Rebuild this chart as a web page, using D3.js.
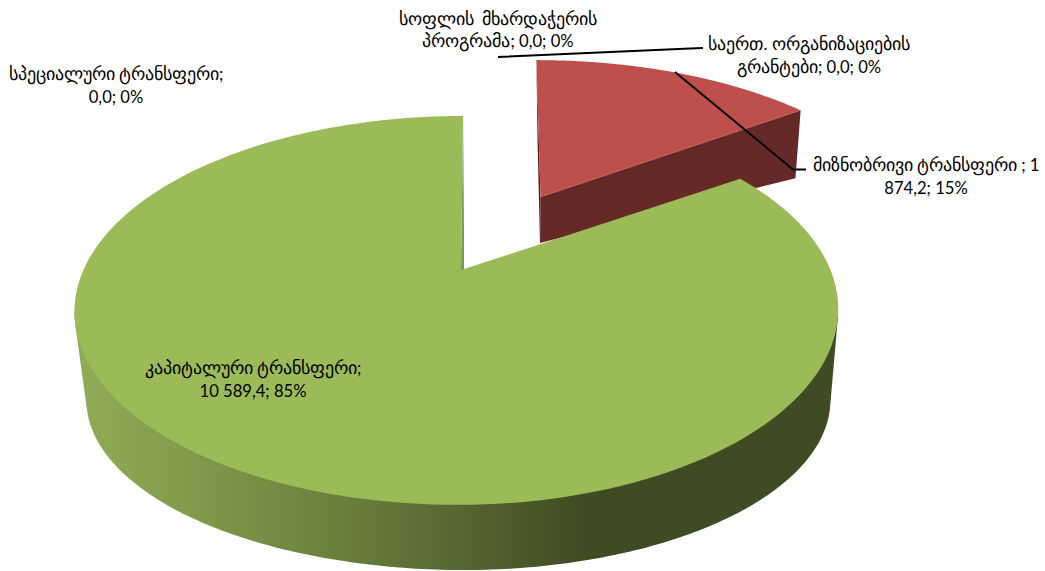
<!DOCTYPE html>
<html><head><meta charset="utf-8">
<script src="https://cdn.jsdelivr.net/npm/d3@7"></script>
<style>
@font-face{font-family:'GeoText';src:local('DejaVu Sans');unicode-range:U+10A0-10FF;size-adjust:106.5%}
html,body{margin:0;padding:0;background:#fff}
svg{display:block}
text{font-family:'GeoText','Lato','DejaVu Sans',sans-serif;font-size:16.6px;fill:#000;white-space:pre;text-anchor:middle}
</style></head><body>
<svg id="c" width="1045" height="571"></svg>
<script>
// Data
const categories = ["მიზნობრივი ტრანსფერი ","კაპიტალური ტრანსფერი","სპეციალური ტრანსფერი","სოფლის  მხარდაჭერის პროგრამა","საერთ. ორგანიზაციების გრანტები"];
const values = [1874.2, 10589.4, 0, 0, 0];
const labelLines = [
  ["მიზნობრივი ტრანსფერი ; 1","874,2; 15%"],
  ["კაპიტალური ტრანსფერი;","10 589,4; 85%"],
  ["სპეციალური ტრანსფერი;","0,0; 0%"],
  ["სოფლის  მხარდაჭერის","პროგრამა; 0,0; 0%"],
  ["საერთ. ორგანიზაციების","გრანტები; 0,0; 0%"]
];
const topColors = ["#be4f4d","#9bbb59"];

// Layout
const labelPos = [[926,171],[253,374],[116,80],[498,24.5],[809,50]];
const lineGap = 22.5;
const leaders = [
  [[675,72],[793,169.5],[806,169.5]],
  [[498,57],[690,48.5],[703,48]]
];
// perspective planes: apex, left/right radius, vertical scale, tilt, warp
const planes = {
  redTop:{x0:540.5,y0:197,rl:366,rr:366,b:167,k:.22,sh:-5,w:0},
  redBot:{x0:540,y0:243,rl:358,rr:358,b:125,k:.22,sh:-3,w:0},
  greenTop:{x0:461,y0:270,rl:377.6,rr:369.5,b:186,k:.208,sh:2.5,w:.06},
  greenBot:{x0:464,y0:366,rl:370,rr:359,b:163.2,k:.2,sh:0,w:.06}
};
const project = (p,a,r=1)=>{
  const t=a+p.w*Math.sin(a), u=r*Math.sin(t), v=-r*Math.cos(t), s=1/(1-p.k*v);
  return [p.x0+((u<0?p.rl:p.rr)*u-p.sh*v)*s, p.y0+p.b*v*s];
};
const arcPts=(p,a0,a1)=>d3.range(0,181).map(i=>project(p,a0+(a1-a0)*i/180));

const slices = d3.pie().sort(null).startAngle(0).endAngle(2*Math.PI)(values);
const svg = d3.select("#c");
const line = d3.line();

const grad = svg.append("defs").append("linearGradient").attr("id","side")
  .attr("gradientUnits","userSpaceOnUse").attr("x1",75).attr("x2",838).attr("y1",0).attr("y2",0);
[[0,"#90ac55"],[.16,"#7f9a4a"],[.36,"#687e3c"],[.5,"#566731"],[.67,"#3f4b22"],[1,"#3f4b22"]]
  .forEach(([o,c])=>grad.append("stop").attr("offset",o).attr("stop-color",c));

function poly(pts,fill){svg.append("path").attr("d",line(pts)+"Z").attr("fill",fill);}

// red slice (exploded)
{
  const s=slices[0], T=planes.redTop, B=planes.redBot;
  const a=s.startAngle, e=s.endAngle;
  poly([project(T,a),project(T,0,0),project(B,0,0),project(B,a)],"#4f201e");
  poly([project(T,e),project(T,0,0),project(B,0,0),project(B,e)],"#652a28");
  poly([project(T,0,0),...arcPts(T,a,e)],topColors[0]);
}
// green slice
{
  const s=slices[1], T=planes.greenTop, B=planes.greenBot;
  const a=s.startAngle, e=s.endAngle;
  poly([project(T,e),project(T,0,0),project(B,0,0),project(B,e)],"#7f9b49");
  // the visible outer wall is the hull of the near half of both rims
  const near=[Math.PI*.55,Math.PI*1.45];
  poly(d3.polygonHull([...arcPts(T,near[0],near[1]),...arcPts(B,near[0],near[1])]),"url(#side)");
  poly([project(T,0,0),...arcPts(T,a,e)],topColors[1]);
}
// leaders
leaders.forEach(l=>svg.append("path").attr("d",line(l)).attr("fill","none").attr("stroke","#000").attr("stroke-width",1.9));
// labels
labelLines.forEach((ls,i)=>{
  ls.forEach((t,j)=>svg.append("text").attr("x",labelPos[i][0]).attr("y",labelPos[i][1]+j*lineGap).text(t));
});
</script></body></html>
